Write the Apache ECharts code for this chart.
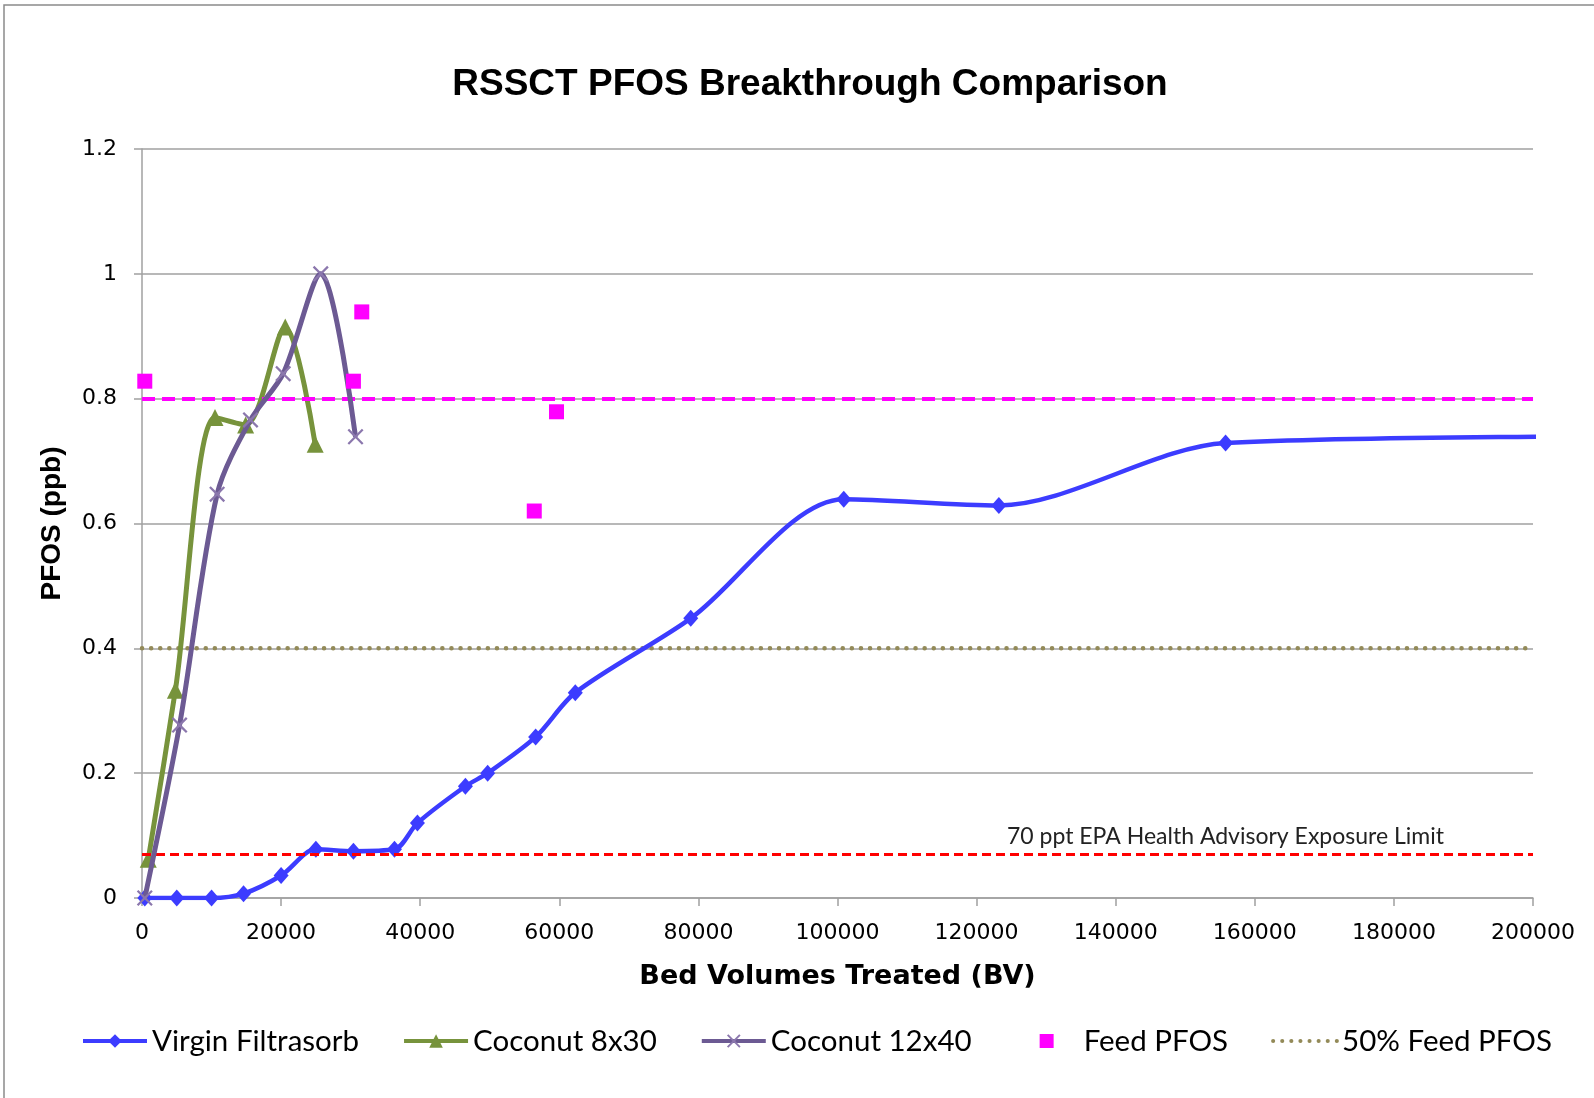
<!DOCTYPE html>
<html>
<head>
<meta charset="utf-8">
<script src="https://cdn.jsdelivr.net/npm/echarts@6/dist/echarts.min.js"></script>
<style>
  html, body { margin: 0; padding: 0; background: #fff; }
  #main { width: 1594px; height: 1098px; }
</style>
</head>
<body>
<div id="main"></div>
<script>
// values
const virginX = [400, 5000, 10000, 14600, 20000, 25000, 30400, 36300, 39600, 46500, 49700, 56600, 62300, 78900, 100900, 123200, 155800, 220000]
const virginY = [0, 0, 0, 0.007, 0.036, 0.078, 0.075, 0.078, 0.12, 0.179, 0.2, 0.258, 0.329, 0.448, 0.639, 0.629, 0.729, 0.74]
const coco830X = [900, 4800, 10500, 14900, 20600, 24900]
const coco830Y = [0.062, 0.333, 0.77, 0.758, 0.915, 0.727]
const coco1240X = [400, 5400, 10800, 15600, 20300, 25700, 30700]
const coco1240Y = [0, 0.277, 0.647, 0.766, 0.84, 1.0, 0.739]
const feedX = [400, 30400, 31600, 56400, 59600]
const feedY = [0.828, 0.828, 0.939, 0.62, 0.779]
const halfFeedX = [0, 200000]
const halfFeedY = [0.4, 0.4]
const feedLevel = 0.8
const epaLimit = 0.07
const epaLabel = '70 ppt EPA Health Advisory Exposure Limit'

function pairs(xs, ys) {
  return xs.map((x, i) => [x, ys[i]])
}

const crossPath = 'path://M0,1L1,0L5,4L9,0L10,1L6,5L10,9L9,10L5,6L1,10L0,9L4,5Z'
// square centred in a 64x17 legend box
const squareIcon = 'path://M0,0M64,17M25,1.5L39,1.5L39,15.5L25,15.5Z'

const chart = echarts.init(document.getElementById('main'))
const option = {
  animation: false,
  backgroundColor: '#fff',
  graphic: [
    {
      type: 'rect',
      shape: { x: 4, y: 5, width: 1700, height: 1200 },
      style: { fill: 'none', stroke: '#8a8a8a', lineWidth: 1.5 },
      silent: true,
    },
  ],
  title: {
    text: 'RSSCT PFOS Breakthrough Comparison',
    left: 805,
    top: 61,
    textAlign: 'center',
    textStyle: {
      fontFamily: 'Liberation Sans, Arial',
      fontWeight: 'bold',
      fontSize: 37,
      color: '#000',
    },
  },
  grid: {
    left: 142,
    right: 61,
    top: 149,
    bottom: 200,
  },
  legend: {
    data: [
      'Virgin Filtrasorb',
      'Coconut 8x30',
      'Coconut 12x40',
      { name: 'Feed PFOS', icon: squareIcon },
      '50% Feed PFOS',
    ],
    left: 81,
    top: 1026,
    width: 1510,
    padding: 0,
    itemWidth: 64,
    itemHeight: 17,
    itemGap: 43,
    lineStyle: { width: 4 },
    textStyle: {
      fontFamily: 'Lato',
      fontSize: 29.5,
      color: '#000',
    },
  },
  xAxis: {
    type: 'value',
    min: 0,
    max: 200000,
    interval: 20000,
    name: 'Bed Volumes Treated (BV)',
    nameLocation: 'middle',
    nameGap: 65,
    nameTextStyle: {
      fontFamily: 'DejaVu Sans',
      fontWeight: 'bold',
      fontSize: 27,
      color: '#000',
    },
    axisLine: { lineStyle: { color: '#a0a0a0', width: 1.5 } },
    axisTick: { show: true, length: 8, lineStyle: { color: '#a0a0a0', width: 1.5 } },
    axisLabel: {
      margin: 24,
      fontFamily: 'DejaVu Sans',
      fontSize: 22,
      color: '#000',
      formatter: (v) => String(v),
    },
    splitLine: { show: false },
  },
  yAxis: {
    type: 'value',
    min: 0,
    max: 1.2,
    interval: 0.2,
    name: 'PFOS (ppb)',
    nameLocation: 'middle',
    nameGap: 76,
    nameTextStyle: {
      fontFamily: 'Liberation Sans, Arial',
      fontWeight: 'bold',
      fontSize: 28,
      color: '#000',
    },
    axisLine: { show: true, lineStyle: { color: '#a0a0a0', width: 1.5 } },
    axisTick: { show: true, length: 8, lineStyle: { color: '#a0a0a0', width: 1.5 } },
    axisLabel: {
      margin: 25,
      fontFamily: 'DejaVu Sans',
      fontSize: 22,
      color: '#000',
    },
    splitLine: { show: true, lineStyle: { color: '#a0a0a0', width: 1.5 } },
  },
  series: [
    {
      name: 'feed level',
      type: 'line',
      data: [],
      z: 1,
      markLine: {
        silent: true,
        symbol: 'none',
        data: [{ yAxis: feedLevel }],
        lineStyle: { color: '#ff00ff', width: 4, type: [13, 7] },
        label: { show: false },
      },
    },
    {
      name: 'EPA limit',
      type: 'line',
      data: [],
      z: 1,
      markLine: {
        silent: true,
        symbol: 'none',
        data: [{ yAxis: epaLimit }],
        lineStyle: { color: '#ff0000', width: 3, type: [9, 5] },
        label: {
          show: true,
          position: 'insideEndTop',
          formatter: epaLabel,
          fontFamily: 'Lato',
          fontSize: 23,
          color: '#222',
          padding: [0, 84, 1, 0],
        },
      },
    },
    {
      name: '50% Feed PFOS',
      type: 'line',
      data: pairs(halfFeedX, halfFeedY),
      symbol: 'circle',
      showSymbol: false,
      z: 2,
      lineStyle: { color: '#938a58', width: 4.5, type: [0.1, 9], cap: 'round' },
      itemStyle: { color: 'rgba(0,0,0,0)', borderColor: 'rgba(0,0,0,0)', borderWidth: 0 },
    },
    {
      name: 'Virgin Filtrasorb',
      type: 'line',
      data: pairs(virginX, virginY),
      smooth: 0.3,
      symbol: 'diamond',
      symbolSize: [15, 17],
      z: 3,
      lineStyle: { color: '#3c3cff', width: 4.5 },
      itemStyle: { color: '#3c3cff' },
    },
    {
      name: 'Coconut 8x30',
      type: 'line',
      data: pairs(coco830X, coco830Y),
      smooth: 0.3,
      symbol: 'triangle',
      symbolSize: 17,
      z: 4,
      lineStyle: { color: '#77933c', width: 5 },
      itemStyle: { color: '#77933c' },
    },
    {
      name: 'Coconut 12x40',
      type: 'line',
      data: pairs(coco1240X, coco1240Y),
      smooth: 0.3,
      symbol: crossPath,
      symbolSize: 16,
      z: 5,
      lineStyle: { color: '#6c5a93', width: 5 },
      itemStyle: { color: '#8b77ad' },
    },
    {
      name: 'Feed PFOS',
      type: 'scatter',
      data: pairs(feedX, feedY),
      symbol: 'rect',
      symbolSize: 15,
      z: 6,
      itemStyle: { color: '#ff00ff', opacity: 1 },
    },
  ],
}
chart.setOption(option)
</script>
</body>
</html>
